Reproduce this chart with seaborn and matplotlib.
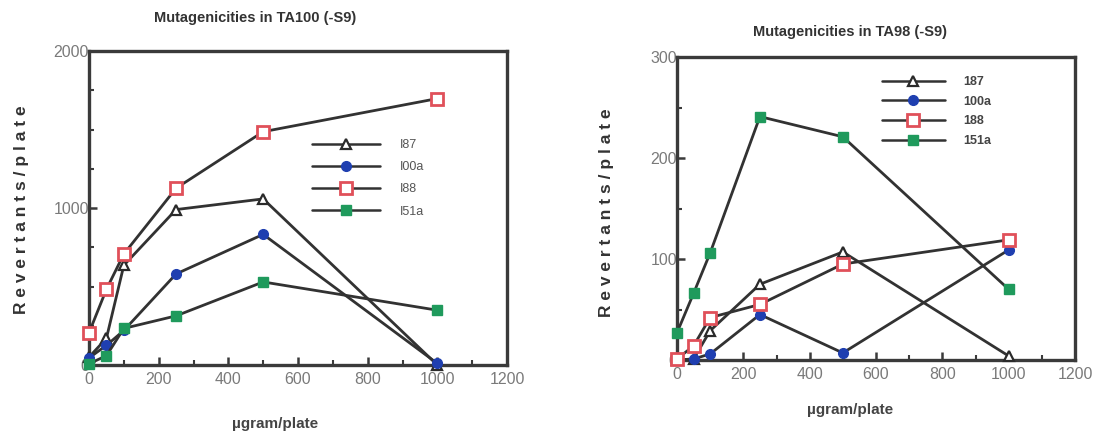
import matplotlib
matplotlib.use("Agg")
import matplotlib.pyplot as plt
from matplotlib.lines import Line2D
from matplotlib.ticker import MultipleLocator
import numpy as np
import pandas as pd
import seaborn as sns

# Doses (µg/plate)
doses = [0, 50, 100, 250, 500, 1000]

# TA100 (-S9) revertants/plate
ta100_187 = [50, 170, 635, 990, 1058, 0]
ta100_100a = [45, 125, 220, 580, 832, 10]
ta100_188 = [205, 482, 707, 1126, 1486, 1697]
ta100_151a = [8, 59, 233, 313, 529, 349]

# TA98 (-S9) revertants/plate
ta98_187 = [0, 1, 29, 75, 107, 4]
ta98_100a = [0, 1, 6, 45, 7, 109]
ta98_188 = [1, 14, 42, 55, 95, 119]
ta98_151a = [27, 66, 106, 241, 221, 70]

compounds = ["187", "100a", "188", "151a"]
left_legend_labels = ["I87", "I00a", "I88", "I51a"]

sns.set_theme(style="white")
plt.rcParams["font.family"] = ["Liberation Sans", "DejaVu Sans"]

LINE = "#323232"
styles = {
    "187": dict(marker="^", markersize=7.5, markerfacecolor="white", markeredgecolor="#2a2a2a", markeredgewidth=1.6),
    "100a": dict(marker="o", markersize=7, markerfacecolor="#1f3fb0", markeredgecolor="#1f3fb0", markeredgewidth=1.0),
    "188": dict(marker="s", markersize=8, markerfacecolor="white", markeredgecolor="#e0505a", markeredgewidth=2.0),
    "151a": dict(marker="s", markersize=7, markerfacecolor="#1f9a5c", markeredgecolor="#1f9a5c", markeredgewidth=1.0),
}

def long_frame(series):
    rows = []
    for name, vals in zip(compounds, series):
        for d, v in zip(doses, vals):
            rows.append({"dose": d, "revertants": v, "compound": name})
    return pd.DataFrame(rows)

df100 = long_frame([ta100_187, ta100_100a, ta100_188, ta100_151a])
df98 = long_frame([ta98_187, ta98_100a, ta98_188, ta98_151a])

fig = plt.figure(figsize=(11, 4.33), dpi=100)
ax1 = fig.add_axes([89 / 1100, 1 - 365 / 433, 418 / 1100, 314 / 433])
ax2 = fig.add_axes([677 / 1100, 1 - 360 / 433, 398 / 1100, 303 / 433])

def draw(ax, df, ymax, ymajor, yminor, legend_labels, legend_bbox, legend_font, legend_weight,
         spacing, hlen, tpad, legend_color):
    for name in compounds:
        sub = df[df["compound"] == name]
        sns.lineplot(data=sub, x="dose", y="revertants", ax=ax, color=LINE,
                     linewidth=2.0, legend=False, zorder=3, clip_on=False,
                     **styles[name])
    ax.set_xlim(0, 1200)
    ax.set_ylim(0, ymax)
    ax.xaxis.set_major_locator(MultipleLocator(200))
    ax.xaxis.set_minor_locator(MultipleLocator(100))
    ax.yaxis.set_major_locator(MultipleLocator(ymajor))
    ax.yaxis.set_minor_locator(MultipleLocator(yminor))
    ax.tick_params(which="both", direction="in", colors="#3a3a3a",
                   labelcolor="#7a7a7a", labelsize=11.5, bottom=True, left=True,
                   top=False, right=False)
    ax.tick_params(which="major", length=6, width=1.8)
    ax.tick_params(which="minor", length=3.5, width=1.5)
    ax.tick_params(axis="x", pad=5)
    ax.tick_params(axis="y", pad=0)
    for s in ax.spines.values():
        s.set_visible(True)
        s.set_color("#3a3a3a")
        s.set_linewidth(2.4)
    ax.set_xlabel("")
    ax.set_ylabel("")
    handles = [Line2D([0], [0], color=LINE, linewidth=1.8, **styles[n]) for n in compounds]
    leg = ax.legend(handles, legend_labels, loc="upper left", bbox_to_anchor=legend_bbox,
                    frameon=False, handlelength=hlen, handletextpad=tpad, numpoints=1,
                    labelspacing=spacing, borderaxespad=0, borderpad=0,
                    prop={"size": legend_font, "weight": legend_weight})
    for t in leg.get_texts():
        t.set_color(legend_color)

draw(ax1, df100, 2000, 1000, 250, left_legend_labels, (223 / 418, 1 - 88 / 314), 9, "normal",
     0.82, 5.4, 1.6, "#555555")
draw(ax2, df98, 300, 100, 50, compounds, (205 / 398, 1 - 19 / 303), 9, "bold",
     0.62, 5.0, 1.5, "#444444")

# titles and axis labels
fig.text(255 / 1100, 1 - 18 / 433, "Mutagenicities in TA100 (-S9)", ha="center", va="center",
         fontsize=10.5, fontweight="bold", color="#333333")
fig.text(850 / 1100, 1 - 32 / 433, "Mutagenicities in TA98 (-S9)", ha="center", va="center",
         fontsize=10.5, fontweight="bold", color="#333333")
fig.text(22 / 1100, 1 - 210 / 433, "R e v e r t a n t s / p l a t e", rotation=90, ha="center", va="center",
         fontsize=12.5, fontweight="bold", color="#333333")
fig.text(607 / 1100, 1 - 213 / 433, "R e v e r t a n t s / p l a t e", rotation=90, ha="center", va="center",
         fontsize=12.5, fontweight="bold", color="#333333")
fig.text(275 / 1100, 1 - 424 / 433, "µgram/plate", ha="center", va="center",
         fontsize=11, fontweight="bold", color="#444444")
fig.text(850 / 1100, 1 - 410 / 433, "µgram/plate", ha="center", va="center",
         fontsize=11, fontweight="bold", color="#444444")

fig.savefig("out.png", dpi=100)
